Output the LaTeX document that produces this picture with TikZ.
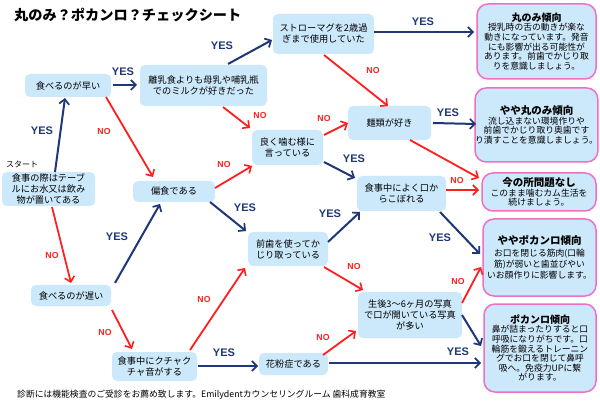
\documentclass[tikz,border=0pt]{standalone}
\usepackage{fontspec}
\setmainfont{Noto Sans CJK JP}
\newfontfamily\lat{Liberation Sans}
\usetikzlibrary{arrows.meta}
\definecolor{navy}{RGB}{30,55,120}
\definecolor{nored}{RGB}{255,30,30}
\definecolor{boxblue}{RGB}{204,232,251}
\definecolor{pinkb}{RGB}{238,112,196}
\tikzset{
  qbox/.style={fill=boxblue, rounded corners=5pt, align=center, inner sep=0pt, font=\fontsize{9.2}{11}\selectfont},
  resbox/.style={fill=boxblue, draw=pinkb, line width=1.5pt, rounded corners=11pt, align=center, inner sep=0pt, font=\fontsize{8.8}{9.6}\selectfont},
  yesarr/.style={draw=navy, line width=2pt, -{Straight Barb[length=5pt,width=10pt,line width=1.7pt]}},
  noarr/.style={draw=nored, line width=1.8pt, -{Straight Barb[length=5pt,width=10pt,line width=1.6pt]}},
  yeslab/.style={text=navy, font=\lat\bfseries\fontsize{11}{12}\selectfont, inner sep=0pt},
  nolab/.style={text=nored, font=\lat\bfseries\fontsize{8.7}{10}\selectfont, inner sep=0pt},
}
\begin{document}
\begin{tikzpicture}[x=1pt,y=-1pt]
\useasboundingbox[fill=white] (0,0) rectangle (600,406);
% title
\node[anchor=west, inner sep=0pt, font=\bfseries\fontsize{14.2}{16}\selectfont] (title) at (14,15) {丸のみ？ポカンロ？チェックシート};
% question nodes
\node[qbox, minimum width=86pt, minimum height=23pt] (A) at (68,85.5) {食べるのが早い};
\node[qbox, minimum width=127pt, minimum height=41pt] (B) at (203.5,85.5) {離乳食よりも母乳や哺乳瓶\\でのミルクが好きだった};
\node[qbox, minimum width=101pt, minimum height=40pt] (C) at (323.5,34) {ストローマグを2歳過\\ぎまで使用していた};
\node[qbox, minimum width=71pt, minimum height=35pt] (D) at (287.5,147.5) {良く噛む様に\\言っている};
\node[qbox, minimum width=83pt, minimum height=34pt] (E) at (389.5,123) {麺類が好き};
\node[anchor=west, inner sep=0pt, font=\fontsize{8}{9}\selectfont] (startlab) at (6,164) {スタート};
\node[qbox, minimum width=93pt, minimum height=34pt] (S) at (48.5,189) {食事の際はテーブ\\ルにお水又は飲み\\物が置いてある};
\node[qbox, minimum width=82pt, minimum height=21pt] (F) at (174,191.5) {偏食である};
\node[qbox, minimum width=89pt, minimum height=35pt] (G) at (401.5,193.5) {食事中によく口か\\らこぼれる};
\node[qbox, minimum width=80pt, minimum height=34pt] (H) at (288,249) {前歯を使ってか\\じり取っている};
\node[qbox, minimum width=80pt, minimum height=21pt] (I) at (71,295.5) {食べるのが遅い};
\node[qbox, minimum width=104pt, minimum height=46pt] (J) at (410,315) {生後3～6ヶ月の写真\\で口が開いている写真\\が多い};
\node[qbox, minimum width=85pt, minimum height=29pt] (K) at (154.5,366.5) {食事中にクチャク\\チャ音がする};
\node[qbox, minimum width=69pt, minimum height=22pt] (L) at (293.5,364) {花粉症である};
% result nodes
\node[resbox, minimum width=119pt, minimum height=75pt] (R1) at (536.5,41.5) {{\bfseries\fontsize{10}{12}\selectfont 丸のみ傾向}\\授乳時の舌の動きが楽な\\動きになっています。発音\\にも影響が出る可能性が\\あります。前歯でかじり取\\りを意識しましょう。};
\node[resbox, minimum width=119pt, minimum height=74pt] (R2) at (536.5,125) {{\bfseries\fontsize{10.5}{13}\selectfont やや丸のみ傾向}\\流し込まない環境作りや\\前歯でかじり取り奥歯です\\り潰すことを意識しましょう。};
\node[resbox, minimum width=114pt, minimum height=38pt] (R3) at (539,192) {{\bfseries\fontsize{10.5}{12}\selectfont 今の所問題なし}\\このまま噛むカム生活を\\続けましょう。};
\node[resbox, minimum width=113pt, minimum height=77pt, font=\fontsize{8.8}{11.2}\selectfont] (R4) at (539.5,257.5) {{\bfseries\fontsize{10.5}{12}\selectfont ややポカンロ傾向}\\お口を閉じる筋肉(口輪\\筋)が弱いと歯並びやい\\いお顔作りに影響します。};
\node[resbox, minimum width=112pt, minimum height=88pt] (R5) at (540,348) {{\bfseries\fontsize{10}{12}\selectfont ポカンロ傾向}\\鼻が詰まったりすると口\\呼吸になりがちです。口\\輪筋を鍛えるトレーニン\\グでお口を閉じて鼻呼\\吸へ。免疫力UPに繋\\がります。};
% footer
\node[anchor=west, inner sep=0pt, font=\fontsize{8.8}{9}\selectfont] (foot) at (17,395) {診断には機能検査のご受診をお薦め致します。Emilydentカウンセリングルーム 歯科成育教室};
% arrows
\draw[yesarr] ([shift={(45,-0.5)}]A.center) -- ([shift={(-66.5,-0.5)}]B.center);
\draw[yesarr] ([shift={(24.5,-21.5)}]B.center) -- ([shift={(-51.5,6)}]C.center);
\draw[yesarr] ([shift={(50.5,-2)}]C.center) -- ([shift={(-62.5,-9.5)}]R1.center);
\draw[noarr] ([shift={(0.5,21)}]C.center) -- ([shift={(-1.5,-17)}]E.center);
\draw[noarr] ([shift={(19.5,21.5)}]B.center) -- ([shift={(-37.5,-19.5)}]D.center);
\draw[noarr] ([shift={(38,11.5)}]A.center) -- ([shift={(-21,-14.5)}]F.center);
\draw[yesarr] ([shift={(6.5,-17)}]S.center) -- ([shift={(-3,12.5)}]A.center);
\draw[noarr] ([shift={(3.5,18)}]S.center) -- ([shift={(0,-12.5)}]I.center);
\draw[noarr] ([shift={(41,-3.5)}]F.center) -- ([shift={(-35.5,18.5)}]D.center);
\draw[yesarr] ([shift={(36,10.5)}]F.center) -- ([shift={(-42,-18)}]H.center);
\draw[yesarr] ([shift={(44,-12.5)}]I.center) -- ([shift={(-14,12.5)}]F.center);
\draw[noarr] ([shift={(41,14.5)}]I.center) -- ([shift={(-22.5,-17.5)}]K.center);
\draw[noarr] ([shift={(35.5,-16.5)}]K.center) -- ([shift={(-43,19)}]H.center);
\draw[yesarr] ([shift={(43.5,-0.5)}]K.center) -- ([shift={(-35.5,2)}]L.center);
\draw[yesarr] ([shift={(35.5,-1)}]L.center) -- ([shift={(-59,15)}]R5.center);
\draw[noarr] ([shift={(29.5,-9)}]L.center) -- ([shift={(-54,16)}]J.center);
\draw[yesarr] ([shift={(40,-7)}]H.center) -- ([shift={(-41.5,18.5)}]G.center);
\draw[noarr] ([shift={(36,18)}]H.center) -- ([shift={(-47,-25)}]J.center);
\draw[noarr] ([shift={(36.5,-12.5)}]D.center) -- ([shift={(-41.5,0)}]E.center);
\draw[yesarr] ([shift={(36.5,14.5)}]D.center) -- ([shift={(-46.5,-15.5)}]G.center);
\draw[yesarr] ([shift={(43.5,0)}]E.center) -- ([shift={(-60.5,-1)}]R2.center);
\draw[noarr] ([shift={(20.5,17)}]E.center) -- ([shift={(-60,-14)}]R3.center);
\draw[noarr] ([shift={(44.5,-3.5)}]G.center) -- ([shift={(-60,-2)}]R3.center);
\draw[yesarr] ([shift={(38.5,18.5)}]G.center) -- ([shift={(-59.5,-3.5)}]R4.center);
\draw[noarr] ([shift={(52,-12)}]J.center) -- ([shift={(-58.5,9.5)}]R4.center);
\draw[yesarr] ([shift={(52,0)}]J.center) -- ([shift={(-59,-2)}]R5.center);
% labels
\node[yeslab] (y1) at (123,72) {YES};
\node[yeslab] (y2) at (222,46) {YES};
\node[yeslab] (y3) at (423,22) {YES};
\node[yeslab] (y4) at (42,131) {YES};
\node[yeslab] (y5) at (245,208) {YES};
\node[yeslab] (y6) at (117,237) {YES};
\node[yeslab] (y7) at (224,353) {YES};
\node[yeslab] (y8) at (458,352) {YES};
\node[yeslab] (y9) at (330,214) {YES};
\node[yeslab] (y10) at (354,159) {YES};
\node[yeslab] (y11) at (448,113) {YES};
\node[yeslab] (y12) at (440,238) {YES};
\node[nolab] (n1) at (260,116) {NO};
\node[nolab] (n2) at (373,71) {NO};
\node[nolab] (n3) at (104,132) {NO};
\node[nolab] (n4) at (52,256) {NO};
\node[nolab] (n5) at (224,165) {NO};
\node[nolab] (n6) at (105,333) {NO};
\node[nolab] (n7) at (204,300) {NO};
\node[nolab] (n8) at (323,338) {NO};
\node[nolab] (n9) at (354,267) {NO};
\node[nolab] (n10) at (324,119) {NO};
\node[nolab] (n11) at (457,181) {NO};
\node[nolab] (n12) at (458,282) {NO};
\end{tikzpicture}
\end{document}
